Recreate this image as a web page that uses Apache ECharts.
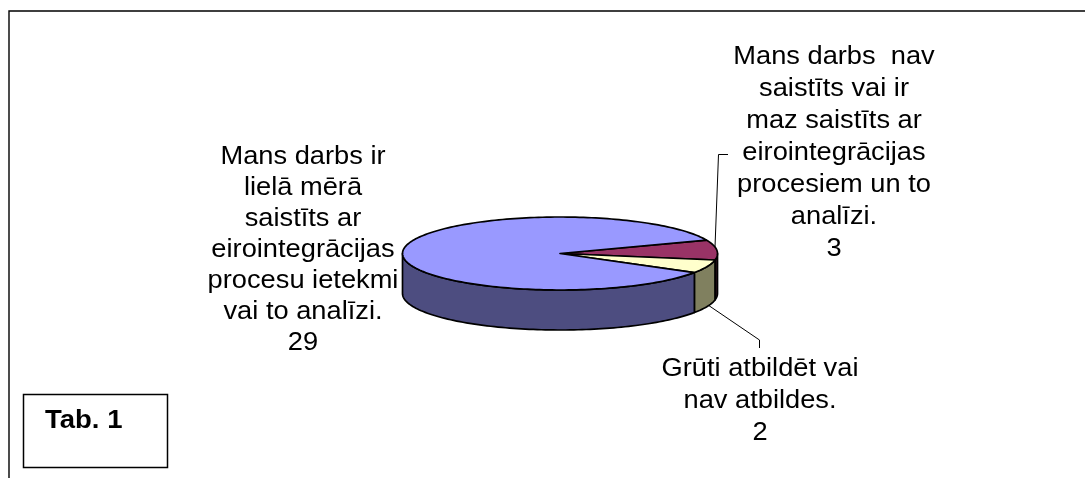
<!DOCTYPE html>
<html><head><meta charset="utf-8">
<style>html,body{margin:0;padding:0;background:#fff}#c{width:1085px;height:478px}</style>
<script src="https://cdn.jsdelivr.net/npm/echarts@6/dist/echarts.min.js"></script>
</head><body><div id="c"></div>
<script>
const categories = [
  "Mans darbs  nav\nsaistīts vai ir\nmaz saistīts ar\neirointegrācijas\nprocesiem un to\nanalīzi.",
  "Grūti atbildēt vai\nnav atbildes.",
  "Mans darbs ir\nlielā mērā\nsaistīts ar\neirointegrācijas\nprocesu ietekmi\nvai to analīzi."
];
const values = [3, 2, 29];
const topColors = ["#993366", "#FFFFCC", "#9999FF"];
const sideColors = ["#2E101F", "#80805F", "#4D4D80"];
const labelAnchors = [[834, 41, 32], [760, 353, 32], [303, 142, 31]];

const cx = 560, cy = 253.5, rx = 157.5, ry = 36.5, depth = 40, startAngle = 21.5;
const total = values.reduce((a, b) => a + b, 0);
function ranges() {
  let a = startAngle; const out = [];
  values.forEach(v => { const b = a - v / total * 360; out.push([a, b]); a = b; });
  return out;
}
const R = ranges();
function pt(deg, dy) {
  const t = deg * Math.PI / 180;
  return [cx + rx * Math.cos(t), cy - ry * Math.sin(t) + (dy || 0)];
}
function arc(from, to, dy) {
  const n = Math.max(2, Math.ceil(Math.abs(from - to) / 1.5)), p = [];
  for (let i = 0; i <= n; i++) p.push(pt(from + (to - from) * i / n, dy));
  return p;
}
const stroke = { stroke: "#000", lineWidth: 1.7, lineJoin: "round" };
const seriesData = values.map((v, i) => ({ name: categories[i], value: v }));

const chart = echarts.init(document.getElementById("c"), null, { renderer: "canvas" });
chart.setOption({
  animation: false,
  backgroundColor: "#fff",
  graphic: [
    { type: "polyline", silent: true, shape: { points: [[9, 478], [9, 11], [1085, 11]] }, style: { fill: null, stroke: "#000", lineWidth: 1.4 } },
    { type: "rect", silent: true, shape: { x: 23.5, y: 394.5, width: 144, height: 73 }, style: { fill: "#fff", stroke: "#000", lineWidth: 1.5 } },
    { type: "text", silent: true, x: 45, y: 409, scaleX: 1.1, style: { text: "Tab. 1", font: "bold 25px 'Liberation Sans', Arial, sans-serif", fill: "#000", textAlign: "left", textVerticalAlign: "top" } },
    { type: "polyline", silent: true, shape: { points: [[715, 247], [718.5, 154.5], [728, 154.5]] }, style: { fill: null, stroke: "#000", lineWidth: 1 } },
    { type: "polyline", silent: true, shape: { points: [[708, 305], [759.5, 340], [759.5, 348]] }, style: { fill: null, stroke: "#000", lineWidth: 1 } }
  ],
  series: [
    {
      type: "custom", coordinateSystem: "none", silent: true, data: seriesData, z: 2,
      renderItem(params) {
        const [a, b] = R[params.dataIndex];
        const hi = Math.min(a, 0), lo = Math.max(b, -180);
        if (hi <= lo) return { type: "group", children: [] };
        const pts = arc(hi, lo, 0).concat(arc(lo, hi, depth));
        return { type: "polygon", shape: { points: pts }, style: { fill: sideColors[params.dataIndex], ...stroke } };
      }
    },
    {
      type: "custom", coordinateSystem: "none", silent: true, data: seriesData, z: 3,
      renderItem(params) {
        const [a, b] = R[params.dataIndex];
        const pts = [[cx, cy]].concat(arc(a, b, 0));
        return { type: "polygon", shape: { points: pts }, style: { fill: topColors[params.dataIndex], ...stroke } };
      }
    },
    {
      type: "custom", coordinateSystem: "none", silent: true, data: seriesData, z: 4,
      renderItem(params) {
        const d = seriesData[params.dataIndex], p = labelAnchors[params.dataIndex];
        return { type: "text", x: p[0], y: p[1], scaleX: 1.09, style: {
          text: d.name + "\n" + d.value, fill: "#000",
          font: "25px 'Liberation Sans', Arial, sans-serif", lineHeight: p[2],
          textAlign: "center", textVerticalAlign: "top" } };
      }
    }
  ]
});
</script></body></html>
